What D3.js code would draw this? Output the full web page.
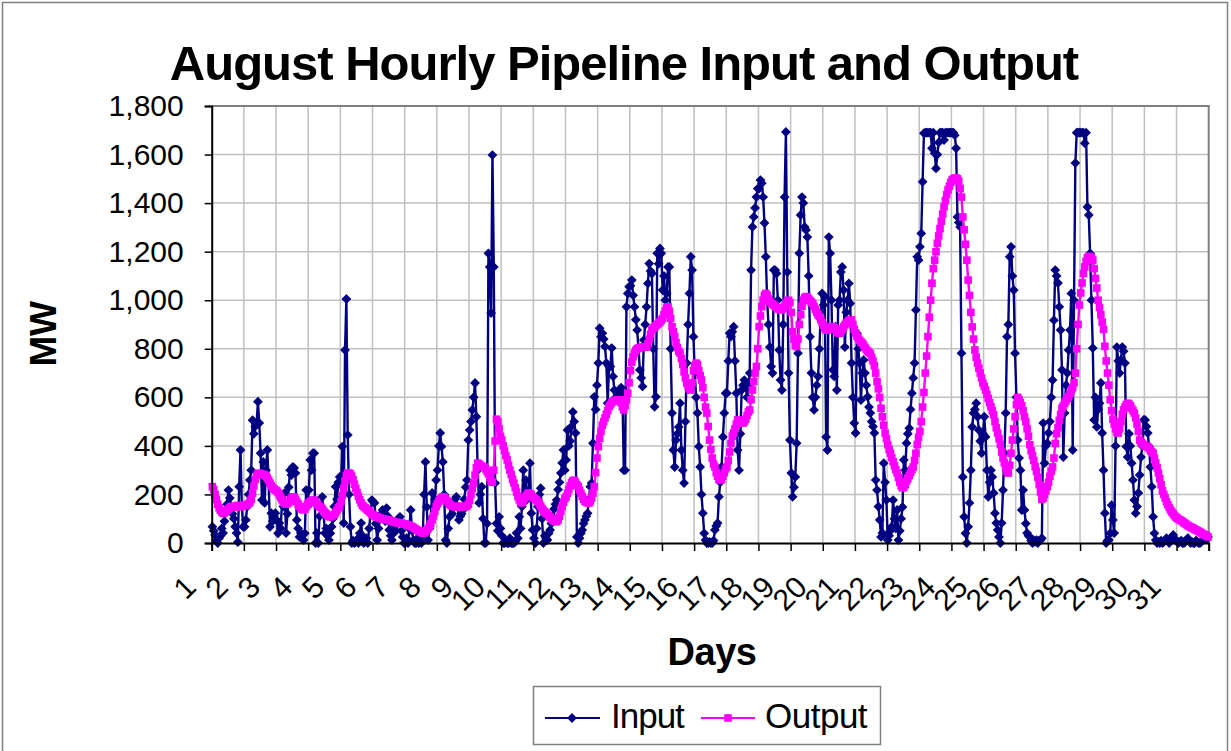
<!DOCTYPE html>
<html><head><meta charset="utf-8">
<script src="https://cdn.jsdelivr.net/npm/d3@7"></script>
<style>
body{margin:0;background:#fff}
svg{display:block}
text{font-family:"Liberation Sans",Arial,Helvetica,sans-serif;fill:#000}
</style>
</head><body>
<svg id="chart" width="1231" height="751"></svg>
<script>
// ---------------- DATA ----------------
const dayLabels = [1,2,3,4,5,6,7,8,9,10,11,12,13,14,15,16,17,18,19,20,21,22,23,24,25,26,27,28,29,30,31];
const yTicks = [0,200,400,600,800,1000,1200,1400,1600,1800];
const seriesNames = ["Input","Output"];
// hourly values (24 per day), MW
const inputMW = [
67,50,33,10,0,20,30,60,41,90,130,160,218,185,150,120,100,67,41,4,232,383,150,67,
67,95,150,200,259,300,506,450,480,494,582,494,370,177,334,165,300,383,250,67,123,90,110,123,
95,40,82,60,177,150,206,41,120,230,300,280,313,309,288,95,60,25,41,30,12,40,218,150,
218,342,300,370,370,0,41,0,110,150,190,120,41,60,30,12,40,67,100,150,232,180,250,272,
240,397,82,795,1005,445,200,67,0,10,0,5,15,0,40,82,30,0,10,20,0,60,120,177,
170,165,80,12,60,100,120,136,100,90,144,110,54,30,12,40,70,50,80,100,108,50,25,0,
0,20,0,60,136,50,10,0,0,20,0,5,0,30,200,334,148,12,60,100,206,150,180,259,
300,400,453,397,334,200,12,0,60,108,150,120,160,180,190,150,95,110,120,136,180,230,259,424,
465,500,548,600,659,520,300,165,200,232,100,0,0,80,1193,1137,947,1598,1137,247,80,50,108,60,
30,0,0,10,0,0,20,0,0,0,5,41,20,108,60,150,300,200,259,180,200,329,123,54,
20,0,60,150,200,226,100,0,30,20,12,40,54,80,108,140,160,177,220,250,288,330,383,300,
342,465,400,420,480,540,500,453,25,0,20,40,54,80,95,110,123,180,232,247,411,602,550,650,
741,885,850,864,840,809,741,576,727,727,803,686,630,600,617,600,630,640,617,300,300,973,1028,1055,
1060,1083,1020,973,920,877,800,713,680,645,836,900,973,1069,1151,1120,1110,800,561,602,1193,1150,1213,1193,
1042,1100,1000,1028,1137,1137,800,535,383,313,424,450,478,576,383,300,247,500,741,900,1028,1179,1124,850,
700,600,535,397,313,200,123,40,12,0,0,5,0,0,10,54,70,82,190,250,313,437,535,617,
617,750,864,850,870,891,750,617,383,300,450,630,650,671,645,600,650,700,1124,1302,1343,1380,1425,1460,
1460,1495,1482,1425,1318,1179,1000,900,807,727,700,1124,1124,1110,1000,795,671,630,900,1425,1693,1116,700,424,
288,190,230,272,411,782,1193,1351,1425,1400,1302,1289,1260,1100,850,700,600,548,600,650,686,800,950,1028,
980,1015,437,383,1260,1193,1000,713,686,891,630,980,1000,1116,1137,1042,807,950,1000,1069,987,741,600,494,
453,864,800,741,589,700,754,700,650,602,560,535,500,480,453,259,218,150,95,25,41,329,250,177,
12,30,50,67,177,100,60,136,12,50,100,148,342,300,411,450,473,550,617,680,741,960,1179,1165,
1220,1275,1488,1688,1690,1690,1690,1690,1690,1626,1690,1605,1543,1600,1650,1690,1690,1690,1660,1690,1690,1690,1690,1690,
1690,1690,1680,1626,1343,1320,1302,782,272,108,40,0,67,165,300,478,535,550,576,520,465,420,370,450,
520,437,300,190,250,300,272,206,123,82,54,25,0,82,218,370,535,850,900,1179,1220,1100,1042,782,
600,424,350,300,136,218,136,80,41,30,25,10,0,12,5,12,0,10,12,20,494,329,400,411,
453,500,600,671,918,1124,1100,1071,973,877,713,354,535,650,700,795,877,1028,383,1000,1565,1690,1690,1690,
1690,1690,1690,1647,1690,1384,1351,1193,1000,803,507,600,478,550,576,659,453,300,123,0,10,12,40,156,
95,41,400,807,750,700,754,807,790,741,397,354,450,400,329,259,177,123,150,206,280,354,400,507,
507,480,453,397,313,232,108,40,12,0,5,0,10,0,5,12,20,8,0,15,25,33,20,10,
5,0,5,10,0,0,5,15,20,10,0,5,0,0,10,5,0,0,5,10,15,20,15,25
];
const outputMW = [
232,220,200,180,160,145,135,128,122,125,130,135,140,145,150,150,148,150,152,155,150,150,152,155,
155,155,158,162,168,180,205,235,262,278,287,287,285,283,282,280,276,268,258,247,236,228,222,218,
215,208,198,188,178,168,163,161,162,166,175,185,190,188,180,170,160,150,144,139,136,140,150,160,
165,170,174,177,176,170,162,155,150,147,140,132,125,119,113,109,108,110,114,118,125,135,145,150,
170,195,225,255,278,288,288,285,275,260,242,225,208,192,178,165,155,150,145,140,135,130,125,118,
115,112,109,107,105,103,101,99,98,97,96,95,94,92,90,88,86,85,84,83,82,81,80,79,
78,76,74,72,70,67,64,60,56,52,50,47,44,41,42,46,52,60,67,80,95,112,130,150,
162,172,180,186,190,188,182,175,168,160,155,152,150,150,150,150,150,150,150,150,150,150,152,160,
175,200,225,247,280,310,329,325,320,316,314,312,305,295,285,270,255,250,300,420,510,500,470,440,
424,400,380,360,342,320,300,282,262,247,228,210,192,178,168,165,172,182,192,200,206,204,198,190,
185,180,177,170,162,152,142,134,128,123,118,112,106,100,95,92,89,88,95,110,130,150,168,182,
190,205,220,235,248,256,259,250,240,232,218,205,192,180,172,168,166,165,170,185,205,232,290,350,
397,430,460,485,500,515,530,545,561,570,578,583,586,588,589,588,589,578,560,548,565,590,617,660,
710,745,767,782,793,800,803,805,806,807,807,807,807,820,840,860,877,885,890,895,900,905,910,918,
925,940,955,968,973,955,925,891,870,850,825,805,790,782,760,735,705,680,659,645,635,630,660,710,
730,741,735,710,690,671,640,600,560,535,480,424,385,350,325,313,290,275,262,259,262,275,290,305,
313,340,375,410,440,453,470,490,507,505,500,495,494,500,510,525,540,548,590,630,665,700,727,800,
891,935,973,1000,1020,1028,1020,1005,995,987,985,980,975,970,965,962,960,962,968,975,985,995,1000,990,
950,870,840,815,809,840,900,940,975,1000,1010,1015,1012,1005,998,992,987,975,962,950,940,932,920,908,
897,886,877,878,882,886,890,891,888,880,872,866,864,870,880,890,898,905,910,915,918,918,900,880,
865,852,843,835,828,823,815,805,797,790,786,780,765,750,730,700,665,635,600,555,520,485,453,430,
405,385,370,352,335,318,302,288,270,250,235,227,230,240,255,265,278,290,302,313,340,370,405,435,
460,500,560,620,700,770,850,930,1000,1070,1130,1165,1200,1235,1265,1295,1325,1355,1385,1410,1435,1455,1470,1485,
1495,1500,1503,1503,1500,1490,1460,1425,1343,1290,1230,1165,1083,1020,950,890,840,795,765,741,720,700,680,659,
645,630,612,595,578,561,545,528,500,475,453,430,405,375,350,330,310,295,288,320,370,424,470,520,
570,600,590,578,565,545,520,500,470,440,405,380,360,340,315,295,270,240,210,180,185,200,215,232,
250,275,295,313,350,410,450,475,505,530,555,565,575,585,595,602,615,630,640,660,700,800,900,980,
1030,1071,1110,1137,1160,1175,1180,1180,1175,1165,1130,1090,1050,1000,970,940,910,880,810,750,700,650,590,545,
510,490,470,455,453,470,500,530,548,560,570,576,572,565,555,545,535,515,490,460,424,415,410,405,
400,398,397,390,380,375,370,350,330,310,288,265,240,215,200,185,170,158,146,136,128,120,113,107,
102,98,95,92,88,84,80,76,72,68,66,63,60,57,54,51,48,45,41,38,35,32,29,25
];

// ---------------- LAYOUT ----------------
const plot = {left: 211.7, right: 1208.7, top: 106, bottom: 543};
const hoursPerDay = 24;
const nHours = dayLabels.length * hoursPerDay;
const COL_IN = "#000080", COL_OUT = "#FF00FF", GRID = "#c0c0c0", FRAME = "#808080";

const svg = d3.select("#chart");
const x = d3.scaleLinear().domain([0, nHours]).range([plot.left, plot.right]);
const y = d3.scaleLinear().domain([0, 1800]).range([plot.bottom, plot.top]);

// outer frame
svg.append("rect").attr("x", 2.5).attr("y", 2.5).attr("width", 1225).attr("height", 780)
  .attr("fill", "#fff").attr("stroke", FRAME).attr("stroke-width", 1.5);

// gridlines
const g = svg.append("g");
g.selectAll("line.hg").data(yTicks.filter(v => v > 0 && v < 1800)).join("line")
  .attr("x1", plot.left).attr("x2", plot.right)
  .attr("y1", d => y(d)).attr("y2", d => y(d))
  .attr("stroke", GRID).attr("stroke-width", 1.5);
g.selectAll("line.vg").data(dayLabels.slice(1)).join("line")
  .attr("x1", (d, i) => x((i + 1) * hoursPerDay)).attr("x2", (d, i) => x((i + 1) * hoursPerDay))
  .attr("y1", plot.top).attr("y2", plot.bottom)
  .attr("stroke", GRID).attr("stroke-width", 1.5);

// plot frame top/right (gray)
svg.append("path")
  .attr("d", `M${plot.left},${plot.top}H${plot.right}V${plot.bottom}`)
  .attr("fill", "none").attr("stroke", FRAME).attr("stroke-width", 2);

// series
const idx = d3.range(nHours);
const line = arr => d3.line().x(i => x(i + 0.5)).y(i => y(arr[i]))(idx);

svg.append("path").attr("d", line(inputMW)).attr("fill", "none")
  .attr("stroke", COL_IN).attr("stroke-width", 2.4).attr("stroke-linejoin", "round");
const r = 4.9;
svg.append("g").selectAll("path").data(idx).join("path")
  .attr("d", i => `M${x(i + 0.5)},${y(inputMW[i]) - r}l${r},${r}l${-r},${r}l${-r},${-r}z`)
  .attr("fill", COL_IN);

svg.append("path").attr("d", line(outputMW)).attr("fill", "none")
  .attr("stroke", COL_OUT).attr("stroke-width", 2.4);
const s = 7.6;
svg.append("g").selectAll("rect").data(idx).join("rect")
  .attr("x", i => x(i + 0.5) - s / 2).attr("y", i => y(outputMW[i]) - s / 2)
  .attr("width", s).attr("height", s).attr("fill", COL_OUT);

// axes
const yAxis = svg.append("g").attr("transform", `translate(${plot.left},0)`)
  .call(d3.axisLeft(y).tickValues(yTicks).tickSize(7).tickPadding(21).tickFormat(d3.format(",")));
yAxis.select(".domain").attr("stroke", "#000").attr("stroke-width", 2);
yAxis.selectAll(".tick line").attr("stroke", "#000").attr("stroke-width", 1.5);
yAxis.selectAll(".tick text").attr("font-size", 30).attr("font-family", '"Liberation Sans",Arial,sans-serif');

const xTickVals = dayLabels.map((d, i) => i * hoursPerDay).concat([nHours]);
const xAxis = svg.append("g").attr("transform", `translate(0,${plot.bottom})`)
  .call(d3.axisBottom(x).tickValues(xTickVals).tickSize(8).tickFormat(""));
xAxis.select(".domain").attr("stroke", "#000").attr("stroke-width", 2);
xAxis.selectAll(".tick line").attr("stroke", "#000").attr("stroke-width", 1.5);

svg.append("g").selectAll("text").data(dayLabels).join("text")
  .attr("transform", (d, i) => `translate(${x(i * hoursPerDay) - 14},${plot.bottom + 46}) rotate(-45)`)
  .attr("text-anchor", "end").attr("font-size", 30).text(d => d);

// titles
svg.append("text").attr("x", 624).attr("y", 80).attr("text-anchor", "middle")
  .attr("font-size", 49).attr("font-weight", "bold").attr("letter-spacing", -1)
  .text("August Hourly Pipeline Input and Output");
svg.append("text").attr("x", 712).attr("y", 665).attr("text-anchor", "middle")
  .attr("font-size", 38).attr("font-weight", "bold").attr("letter-spacing", -0.5).text("Days");
svg.append("text").attr("transform", "translate(56,334) rotate(-90)").attr("text-anchor", "middle")
  .attr("font-size", 37).attr("font-weight", "bold").attr("letter-spacing", -0.5).text("MW");

// legend
const lg = svg.append("g");
lg.append("rect").attr("x", 533.5).attr("y", 686.5).attr("width", 347).attr("height", 58)
  .attr("fill", "#fff").attr("stroke", FRAME).attr("stroke-width", 1.5);
lg.append("line").attr("x1", 545).attr("x2", 600).attr("y1", 718).attr("y2", 718)
  .attr("stroke", COL_IN).attr("stroke-width", 2);
lg.append("path").attr("d", `M572,${718 - r}l${r},${r}l${-r},${r}l${-r},${-r}z`).attr("fill", COL_IN);
lg.append("text").attr("x", 611).attr("y", 728).attr("font-size", 35).attr("letter-spacing", -1).text(seriesNames[0]);
lg.append("line").attr("x1", 701).attr("x2", 755).attr("y1", 718).attr("y2", 718)
  .attr("stroke", COL_OUT).attr("stroke-width", 2);
lg.append("rect").attr("x", 728 - s / 2).attr("y", 718 - s / 2).attr("width", s).attr("height", s).attr("fill", COL_OUT);
lg.append("text").attr("x", 765).attr("y", 728).attr("font-size", 35).attr("letter-spacing", -0.5).text(seriesNames[1]);
</script>
</body></html>
